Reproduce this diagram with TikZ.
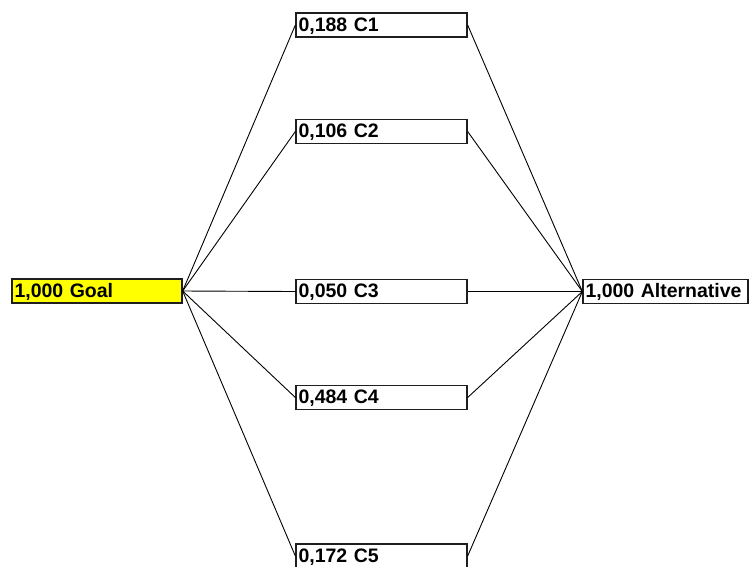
\documentclass[tikz,border=0pt]{standalone}
\usepackage{fontspec}
\setmainfont{Liberation Sans}
\definecolor{goalyellow}{RGB}{255,255,0}
\definecolor{boxline}{RGB}{30,30,30}
\begin{document}
\begin{tikzpicture}[x=1pt,y=-1pt,
  box/.style={draw=boxline,line width=1.3pt,fill=white,rectangle,minimum height=24pt,
    inner xsep=2.5pt,inner ysep=0pt,align=left,
    font=\fontsize{19.5}{20}\selectfont\bfseries,text height=14pt,text depth=2pt},
  link/.style={draw=black,line width=0.9pt}]
\useasboundingbox (0,0) rectangle (749,566);
\fill[white] (0,0) rectangle (749,566);
\node[box,fill=goalyellow,text width=165pt] (goal) at (97,291) {1,000 Goal};
\node[box,text width=166pt] (c1) at (381.5,25) {0,188 C1};
\node[box,text width=166pt] (c2) at (381.5,131.5) {0,106 C2};
\node[box,text width=166pt] (c3) at (381.5,291.5) {0,050 C3};
\node[box,text width=166pt] (c4) at (381.5,397.5) {0,484 C4};
\node[box,text width=166pt] (c5) at (381.5,556) {0,172 C5};
\node[box,text width=160pt] (alt) at (665.5,291.5) {1,000 Alternative};
\foreach \c in {c1,c2,c3,c4,c5}{
  \draw[link] (goal.east) -- (\c.west);
  \draw[link] (\c.east) -- (alt.west);
}
\end{tikzpicture}
\end{document}
